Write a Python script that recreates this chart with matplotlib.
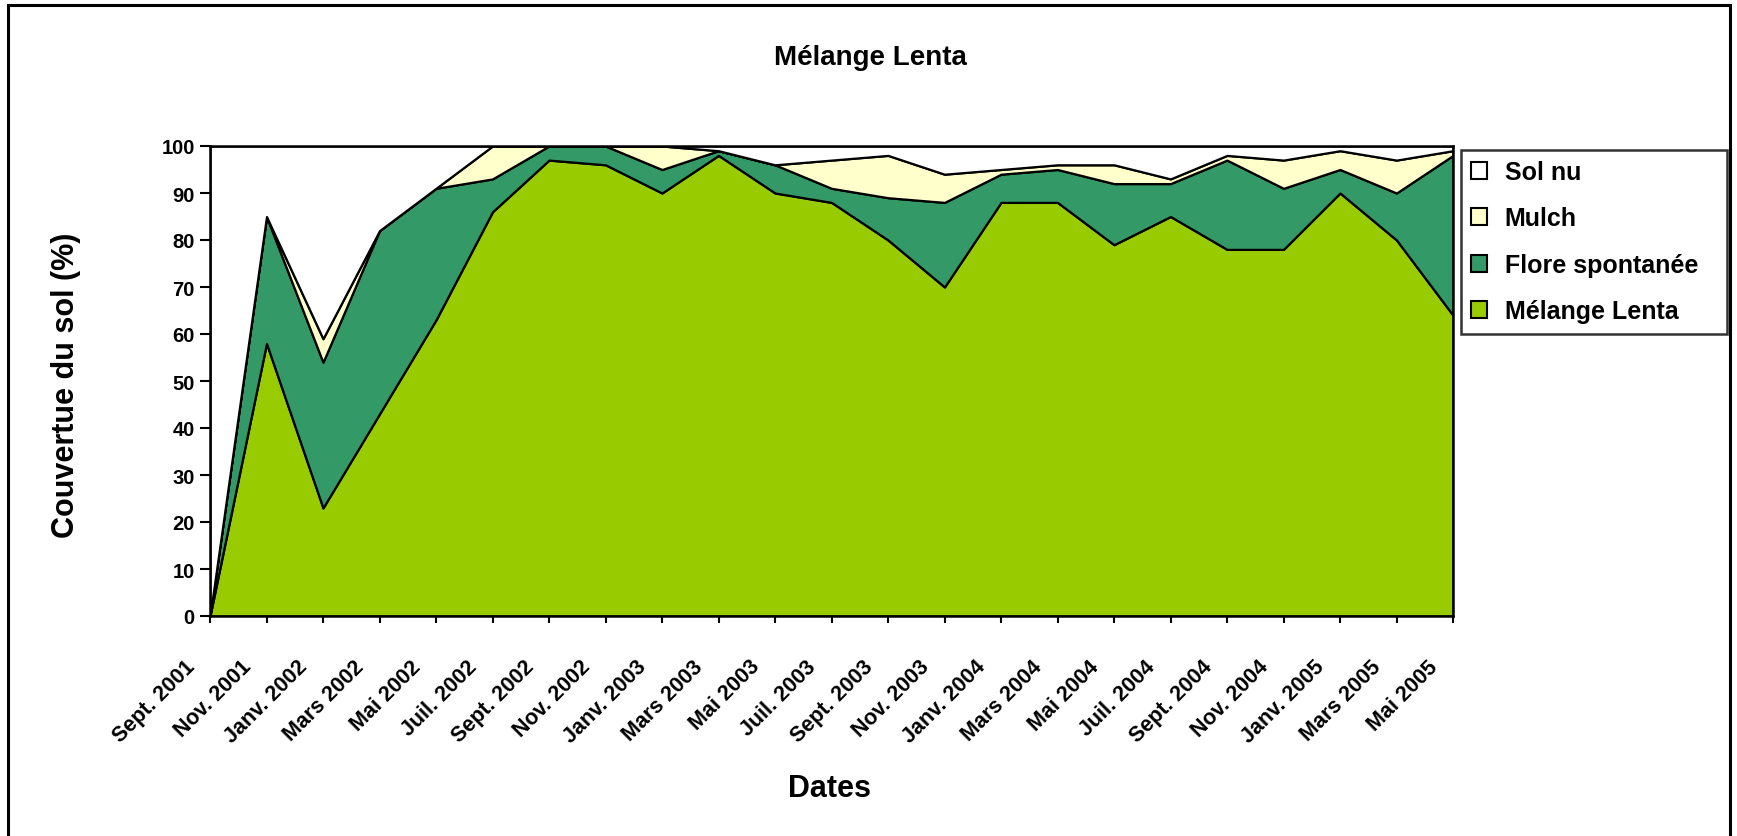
import matplotlib
matplotlib.use("Agg")
import matplotlib.pyplot as plt
import matplotlib.transforms as mtransforms
from matplotlib.patches import Patch, Rectangle
import numpy as np

plt.rcParams['font.family'] = ['Liberation Sans', 'DejaVu Sans']
plt.rcParams['font.weight'] = 'bold'

dates = ["Sept. 2001", "Nov. 2001", "Janv. 2002", "Mars 2002", "Mai 2002",
         "Juil. 2002", "Sept. 2002", "Nov. 2002", "Janv. 2003", "Mars 2003",
         "Mai 2003", "Juil. 2003", "Sept. 2003", "Nov. 2003", "Janv. 2004",
         "Mars 2004", "Mai 2004", "Juil. 2004", "Sept. 2004", "Nov. 2004",
         "Janv. 2005", "Mars 2005", "Mai 2005"]

melange_lenta = [0, 58, 23, 43, 63, 86, 97, 96, 90, 98, 90, 88, 80, 70, 88, 88,
                 79, 85, 78, 78, 90, 80, 64]
flore_spontanee = [0, 27, 31, 39, 28, 7, 3, 4, 5, 1, 6, 3, 9, 18, 6, 7, 13, 7,
                   19, 13, 5, 10, 34]
mulch = [0, 0, 5, 0, 0, 7, 0, 0, 5, 0, 0, 6, 9, 6, 1, 1, 4, 1, 1, 6, 4, 7, 1]
sol_nu = [100, 15, 41, 18, 9, 0, 0, 0, 0, 1, 4, 3, 2, 6, 5, 4, 4, 7, 2, 3, 1, 3, 1]

series_names = ["Mélange Lenta", "Flore spontanée", "Mulch", "Sol nu"]
series_colors = ["#99CC00", "#339966", "#FFFFCC", "#FFFFFF"]

title = "Mélange Lenta"
ylabel = "Couvertue du sol (%)"
xlabel = "Dates"
yticks = [0, 10, 20, 30, 40, 50, 60, 70, 80, 90, 100]

W, H = 1737, 837
fig = plt.figure(figsize=(W / 100, H / 100), dpi=100)
fig.patch.set_facecolor("white")

# outer chart frame
fig.patches.append(Rectangle((8 / W, -0.05), (1730 - 8) / W, 1 - 6 / H + 0.05,
                             transform=fig.transFigure, fill=False,
                             edgecolor="black", linewidth=2.2, clip_on=False))

ax = fig.add_axes([210 / W, 1 - 617 / H, (1453 - 210) / W, (617 - 147) / H])
x = np.arange(len(dates))
ax.stackplot(x, melange_lenta, flore_spontanee, mulch, sol_nu,
             colors=series_colors, edgecolor="black", linewidth=1.6)

ax.set_xlim(0, len(dates) - 1)
ax.set_ylim(0, 100)
ax.set_yticks(yticks)
ax.set_yticklabels([str(v) for v in yticks], fontsize=14.5, fontweight="bold")
ax.set_xticks(x)
ax.set_xticklabels(dates, fontsize=15.5, fontweight="bold", rotation=45,
                   ha="right", va="top")
for sp in ax.spines.values():
    sp.set_linewidth(1.8)
    sp.set_color("black")
ax.tick_params(axis="y", direction="out", length=7, width=1.5, pad=4)
ax.tick_params(axis="x", direction="out", length=5, width=1.5, pad=2)

offset = mtransforms.ScaledTranslation(-0.11, -0.30, fig.dpi_scale_trans)
for lbl in ax.get_xticklabels():
    lbl.set_transform(lbl.get_transform() + offset)

fig.text(870 / W, 1 - 58 / H, title, ha="center", va="center",
         fontsize=20, fontweight="bold")
fig.text(829 / W, 1 - 789 / H, xlabel, ha="center", va="center",
         fontsize=22, fontweight="bold")
fig.text(66 / W, 1 - 385 / H, ylabel, ha="center", va="center",
         rotation=90, fontsize=22, fontweight="bold")

handles = [Patch(facecolor=c, edgecolor="black", linewidth=1.5)
           for c in series_colors]
leg = fig.legend(handles[::-1], series_names[::-1],
                 loc="upper left",
                 bbox_to_anchor=(1461 / W, 1 - 332 / H, (1727 - 1461) / W, (332 - 151) / H),
                 bbox_transform=fig.transFigure, mode="expand",
                 prop={"size": 18, "weight": "bold"},
                 handlelength=0.65, handleheight=0.65, handletextpad=0.7,
                 labelspacing=0.9, borderpad=0.4, borderaxespad=0,
                 frameon=True, fancybox=False)
leg.get_frame().set_edgecolor("black")
leg.get_frame().set_linewidth(1.8)

fig.savefig("out.png", dpi=100)
